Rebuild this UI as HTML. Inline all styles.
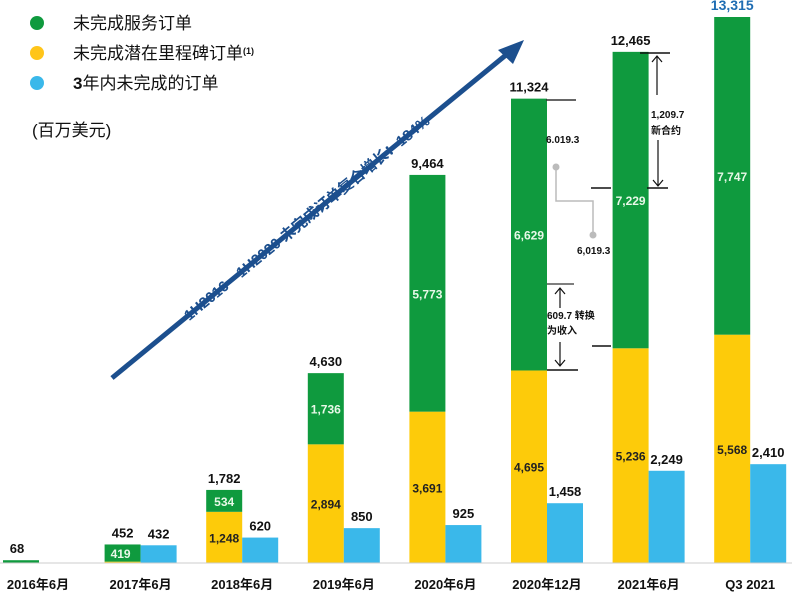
<!DOCTYPE html>
<html><head><meta charset="utf-8">
<style>
body{margin:0;background:#fff;}
svg{display:block;font-family:"Liberation Sans","Noto Sans CJK SC",sans-serif;}
</style></head>
<body>
<svg id="chart" width="792" height="594" viewBox="0 0 792 594" xmlns="http://www.w3.org/2000/svg">
  <g>
    <circle cx="37" cy="23" r="7" fill="#0f9a3e"/>
    <text x="73" y="29" font-size="17" fill="#111">未完成服务订单</text>
    <circle cx="37" cy="53" r="7" fill="#ffc51a"/>
    <text x="73" y="59" font-size="17" fill="#111">未完成潜在里程碑订单<tspan font-size="9" font-weight="bold" dy="-5">(1)</tspan></text>
    <circle cx="37" cy="83" r="7" fill="#3ab8ea"/>
    <text x="73" y="89" font-size="17" fill="#111"><tspan font-weight="bold">3</tspan>年内未完成的订单</text>
    <text x="32" y="136" font-size="17" fill="#111">(百万美元)</text>
  </g>
  <g>
    <line x1="112" y1="378" x2="512" y2="50" stroke="#1c4f8e" stroke-width="5"/>
    <polygon points="524,40 498,50 513,64" fill="#1c4f8e"/>
    <text transform="translate(310,222) rotate(-39.4)" text-anchor="middle" font-size="15" font-weight="bold" fill="#1c4f8e">1H2016—1H2020 未完成订单复合增长：184%</text>
  </g>
  <g id="bars"></g>
  <line x1="0" y1="563" x2="792" y2="563" stroke="#ccc" stroke-width="1"/>
  <g font-size="10" font-weight="bold" fill="#111">
    <line x1="546" y1="100" x2="576" y2="100" stroke="#333" stroke-width="1.5"/>
    <text x="546" y="143">6.019.3</text>
    <polyline points="556,167 556,201 593,201 593,235" fill="none" stroke="#bbb" stroke-width="1.5"/>
    <circle cx="556" cy="167" r="3.5" fill="#bbb"/><circle cx="593" cy="235" r="3.5" fill="#bbb"/>
    <text x="577" y="254">6,019.3</text>
    <line x1="547" y1="284" x2="574" y2="284" stroke="#555" stroke-width="1.5"/>
    <line x1="560" y1="288" x2="560" y2="308" stroke="#111" stroke-width="1.2"/>
    <polyline points="555,294 560,288 565,294" fill="none" stroke="#111" stroke-width="1.2"/>
    <text x="547" y="319">609.7 转换</text>
    <text x="547" y="334">为收入</text>
    <line x1="560" y1="342" x2="560" y2="366" stroke="#111" stroke-width="1.2"/>
    <polyline points="555,360 560,366 565,360" fill="none" stroke="#111" stroke-width="1.2"/>
    <line x1="547" y1="370" x2="578" y2="370" stroke="#111" stroke-width="1.5"/>
    <line x1="592" y1="346" x2="611" y2="346" stroke="#111" stroke-width="1.5"/>
    <line x1="640" y1="53" x2="670" y2="53" stroke="#111" stroke-width="1.5"/>
    <line x1="657" y1="56" x2="657" y2="95" stroke="#111" stroke-width="1.2"/>
    <polyline points="652,62 657,56 662,62" fill="none" stroke="#111" stroke-width="1.2"/>
    <text x="651" y="118">1,209.7</text>
    <text x="651" y="134">新合约</text>
    <line x1="658" y1="140" x2="658" y2="186" stroke="#111" stroke-width="1.2"/>
    <polyline points="653,180 658,186 663,180" fill="none" stroke="#111" stroke-width="1.2"/>
    <line x1="591" y1="188" x2="611" y2="188" stroke="#111" stroke-width="1.5"/>
    <line x1="647" y1="188" x2="668" y2="188" stroke="#111" stroke-width="1.5"/>
  </g>
</svg>
<script>
const categories = ["2016年6月","2017年6月","2018年6月","2019年6月","2020年6月","2020年12月","2021年6月","Q3 2021"];
const serviceValues = [68,419,534,1736,5773,6629,7229,7747];
const milestoneValues = [0,33,1248,2894,3691,4695,5236,5568];
const threeYearValues = [null,432,620,850,925,1458,2249,2410];
const totalLabels = ["68","452","1,782","4,630","9,464","11,324","12,465","13,315"];
const serviceLabels = [null,"419","534","1,736","5,773","6,629","7,229","7,747"];
const milestoneLabels = [null,null,"1,248","2,894","3,691","4,695","5,236","5,568"];
const threeYearLabels = [null,"432","620","850","925","1,458","2,249","2,410"];

const NS = "http://www.w3.org/2000/svg";
const baseY = 563, pxPerUnit = 546/13315, barW = 36;
const y = v => baseY - v*pxPerUnit;
const xCat = i => 3 + i*101.6;
const g = document.getElementById("bars");
function mk(tag, attrs){ const e=document.createElementNS(NS,tag); for(const k in attrs) e.setAttribute(k,attrs[k]); g.appendChild(e); return e; }
function txt(x,yy,s,size,fill,anchor){ const t=mk("text",{x:x,y:yy,"font-size":size,"font-weight":"bold",fill:fill,"text-anchor":anchor||"middle"}); t.textContent=s; return t; }

categories.forEach((c,i)=>{
  const x = xCat(i);
  const m = milestoneValues[i], s = serviceValues[i];
  if(m>0){
    const r = mk("rect",{x:x,y:y(m),width:barW,height:m*pxPerUnit,fill:"#fdcb0a"});
    
    
  }
  const rs = mk("rect",{x:x,y:y(m+s),width:barW,height:Math.max(s*pxPerUnit,2.5),fill:"#0f9a3e"});
  
  
  const tot = totalLabels[i];
  const tl = txt(x+barW/2 + (i===0?-4:0), y(m+s)-7, tot, (i===7?14:13), i===7?"#1f6db3":"#111");
  
  
  if(serviceLabels[i]){
    const mid = i<3 ? y(m+s)+ s*pxPerUnit/2 + 5 : y(m+s/2)+5;
    const sl = txt(x+barW/2 - (i===1?2:0), mid, serviceLabels[i], 12, "#e8f8e8");
    
    
  }
  if(milestoneLabels[i]){
    const ml = txt(x+barW/2, y(m/2)+5, milestoneLabels[i], 12, "#222");
    
    
  }
  const b = threeYearValues[i];
  if(b!==null){
    const rb = mk("rect",{x:x+barW,y:y(b),width:barW,height:b*pxPerUnit,fill:"#3ab8ea"});
    
    
    const bl = txt(x+barW*1.5, y(b)-7, threeYearLabels[i], 13, "#111");
    
    
  }
  const cl = txt(i===0?38:x+barW, 589, c, 13, "#111");
  
  
});
</script>
</body></html>
